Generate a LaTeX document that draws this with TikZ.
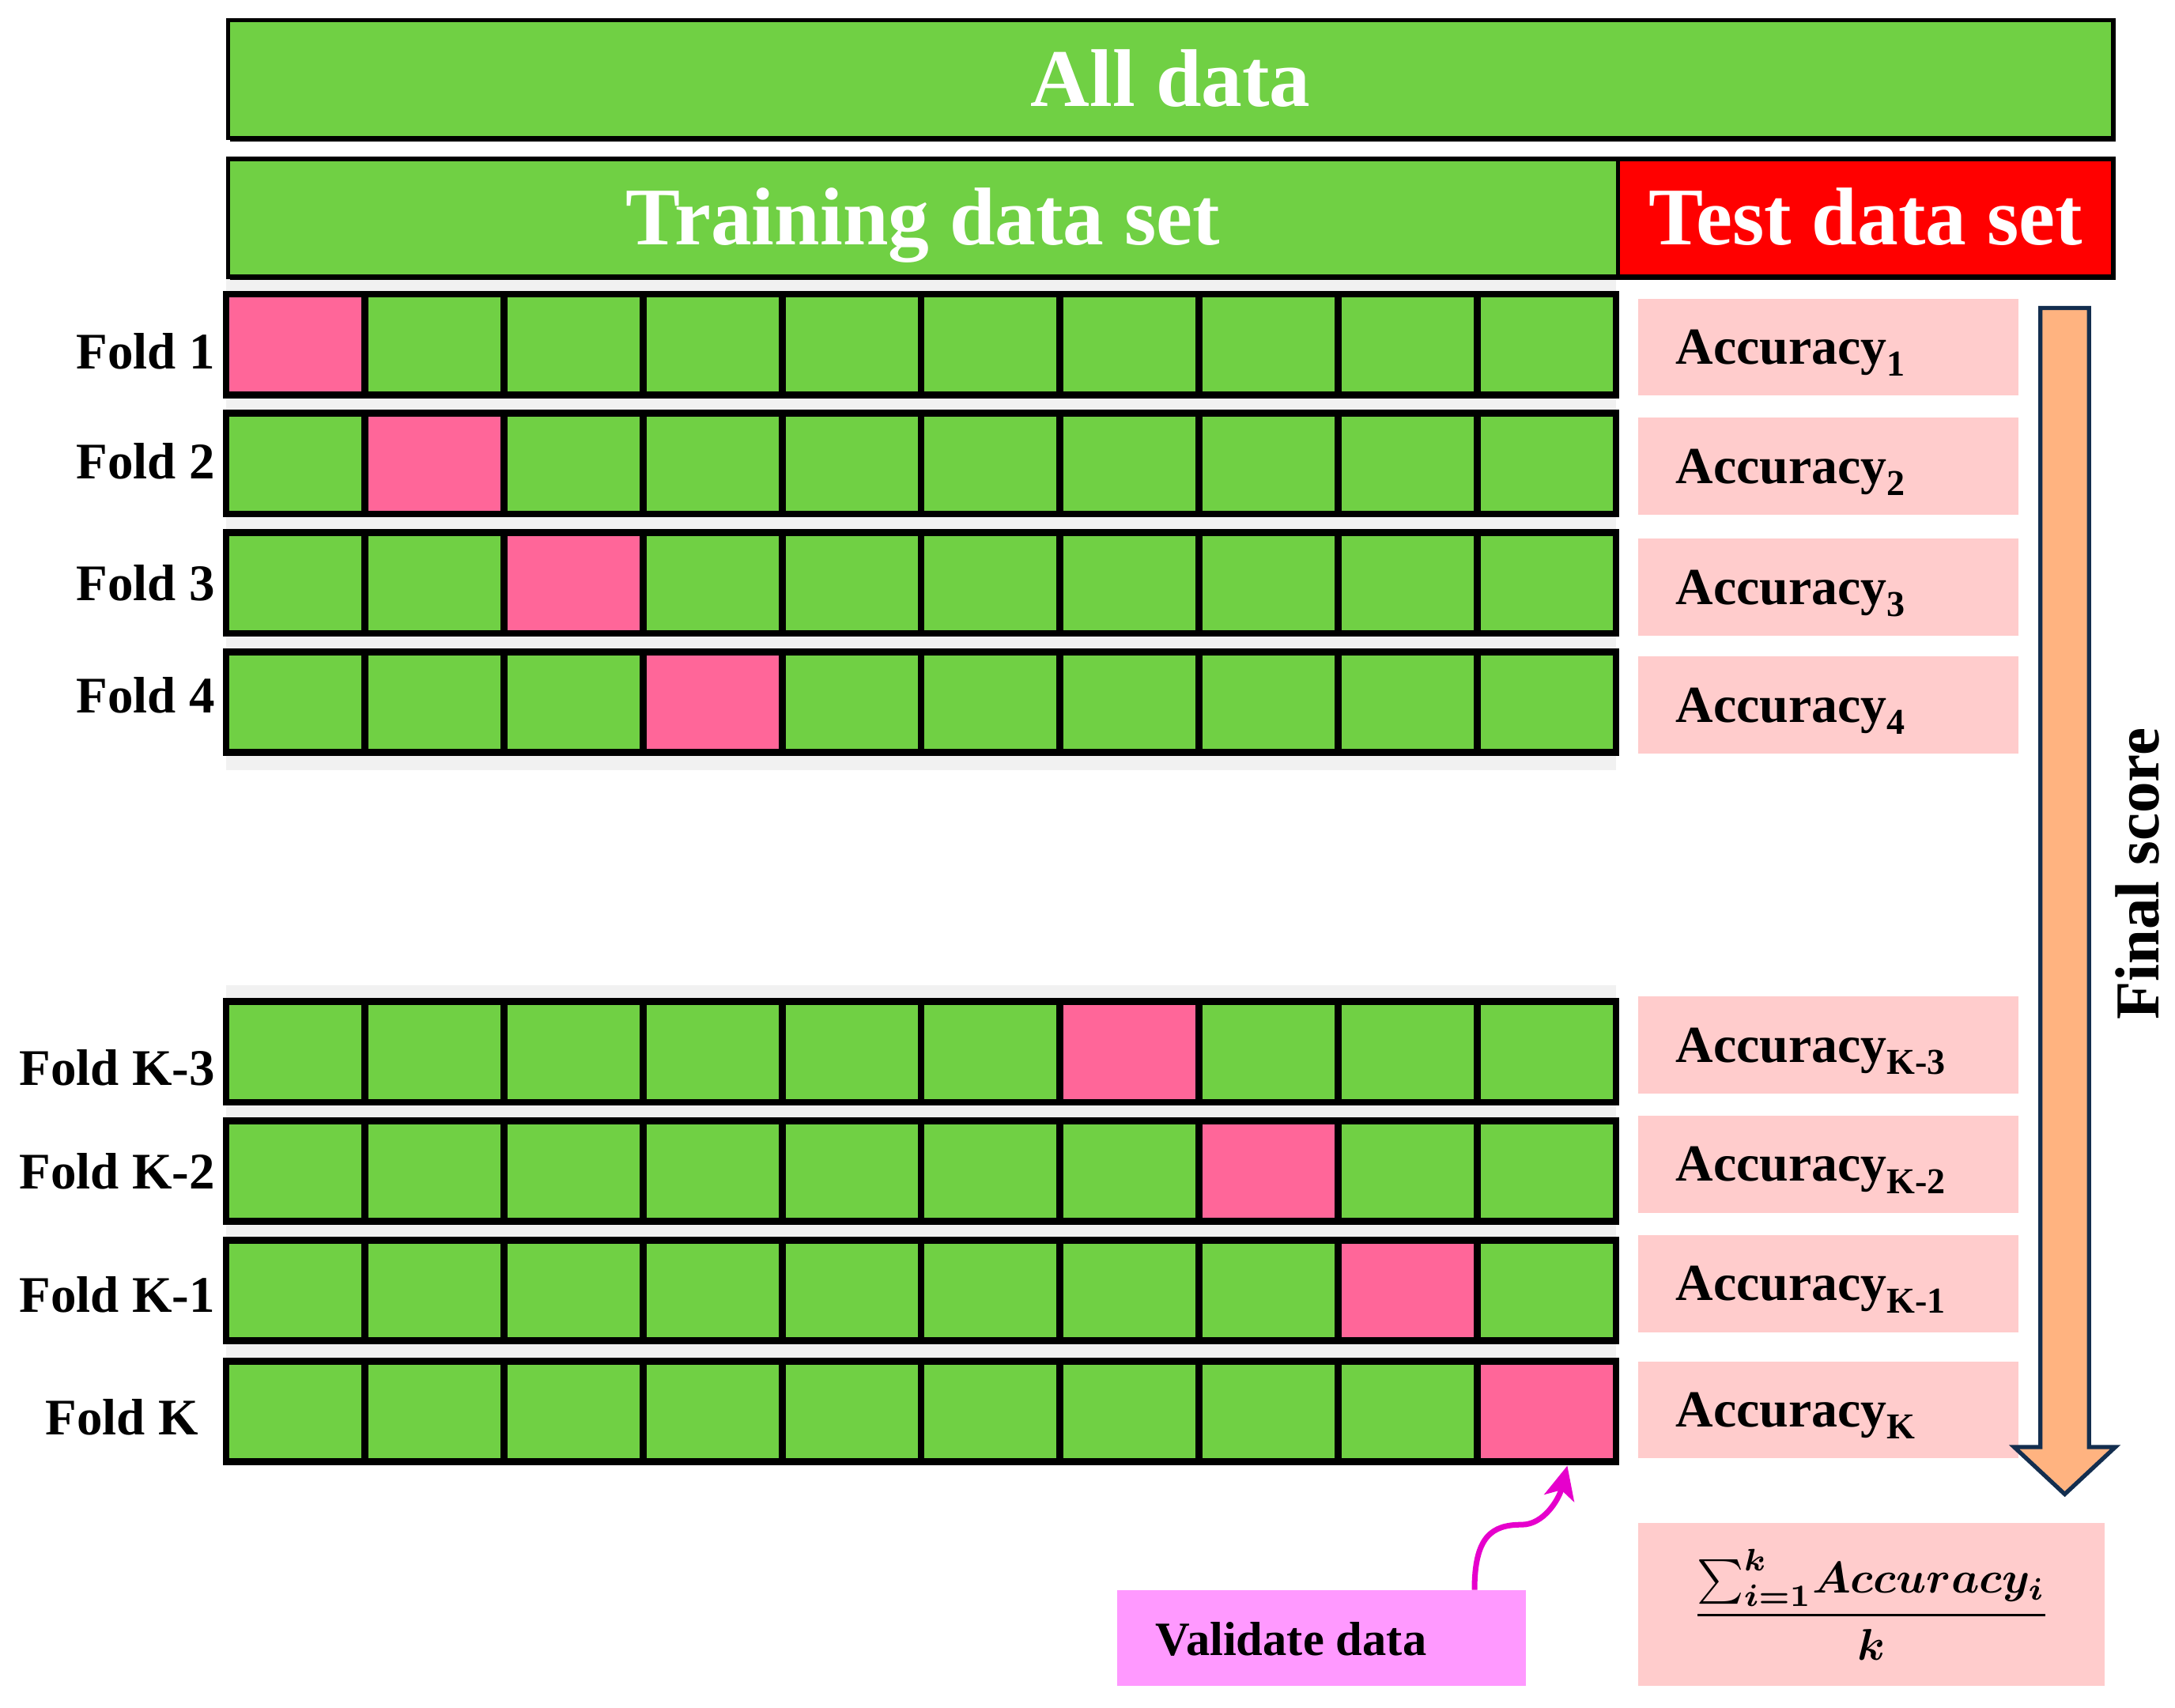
\documentclass[tikz,border=0pt]{standalone}
\usepackage{fontspec}
\setmainfont{Liberation Serif}
\usetikzlibrary{arrows.meta,shadows}
\definecolor{grn}{HTML}{70D044}
\definecolor{pnk}{HTML}{FF6699}
\definecolor{tred}{HTML}{FF0000}
\definecolor{accpink}{HTML}{FFCCCC}
\definecolor{valpink}{HTML}{FF99FF}
\definecolor{orng}{HTML}{FFB380}
\definecolor{navy}{HTML}{132E4F}
\definecolor{magn}{HTML}{E600CC}
\definecolor{band}{HTML}{F1F1F1}
\begin{document}
\begin{tikzpicture}[x=1pt,y=-1pt,
  hdr/.style={draw=black, line width=3pt, text=white, inner sep=0pt,
    anchor=north west, text height=39pt, text depth=0pt,
    font=\fontsize{59}{62}\selectfont\bfseries,
    drop shadow={shadow xshift=1.5pt, shadow yshift=-2.5pt, fill=black, opacity=1}},
  cell/.style={draw=black, line width=5pt, minimum width=100.2pt,
    minimum height=72.5pt, anchor=north west, inner sep=0pt, outer sep=0pt},
  foldlab/.style={anchor=base east, inner sep=0pt, font=\fontsize{37}{40}\selectfont\bfseries},
  accbox/.style={fill=accpink, minimum width=274pt, minimum height=70pt,
    anchor=north west, inner sep=0pt},
  acctxt/.style={anchor=base west, inner sep=0pt, font=\fontsize{37.5}{40}\selectfont\bfseries},
  bigarrow/.style={draw=navy, line width=3pt, fill=orng, line join=miter},
  magarrow/.style={draw=magn, line width=4pt, -{Stealth[length=24pt,width=22pt,inset=6pt]}}
]
\useasboundingbox (0,0) rectangle (1568,1231);
\fill[white] (0,0) rectangle (1568,1231);

% light grey bands behind the fold rows
\fill[band] (163,198) rectangle (1165,555);
\fill[band] (163,710) rectangle (1165,1053);

% headers
\node[hdr, fill=grn, minimum width=1359pt, minimum height=85pt] (all) at (163,13) {All data};
\node[hdr, fill=grn, minimum width=1002pt, minimum height=85pt] (train) at (163,113) {Training data set};
\node[hdr, fill=tred, minimum width=357pt, minimum height=85pt] (test) at (1165,113) {Test data set};

% fold rows
\foreach \i/\t/\p/\lab/\lx/\lb/\sub/\at in {
  1/212/1/Fold 1/155/266/1/215,
  2/298/2/Fold 2/155/345/2/301,
  3/384/3/Fold 3/155/433/3/388,
  4/470/4/Fold 4/155/514/4/473,
  5/722/7/Fold K-3/155/782/K-3/718,
  6/808/8/Fold K-2/155/857/K-2/804,
  7/894/9/Fold K-1/155/946/K-1/890,
  8/981/10/Fold K/143/1034/K/981}{
  \foreach \c in {1,...,10}{
    \ifnum\c=\p\relax\def\cc{pnk}\else\def\cc{grn}\fi
    \node[cell, fill=\cc] (r\i c\c) at ({163+100.2*(\c-1)},\t) {};
  }
  \node[foldlab] (lab\i) at (\lx,\lb) {\lab};
  \node[accbox] (acc\i) at (1181,\at) {};
  \node[acctxt] (acct\i) at (1208,\at+47.5) {Accuracy\textsubscript{\sub}};
}

% final score arrow
\draw[bigarrow] (1471,222) -- (1506,222) -- (1506,1043) -- (1525,1043)
  -- (1488.5,1077) -- (1452,1043) -- (1471,1043) -- cycle;
\node[rotate=90, inner sep=0pt, font=\fontsize{45}{48}\selectfont\bfseries] (fs) at (1541,630) {Final score};

% formula box
\node[fill=accpink, minimum width=336pt, minimum height=117pt, inner sep=0pt] (final) at (1349,1156.5)
  {\scalebox{3.2}{\boldmath$\displaystyle\frac{\textstyle\sum_{i=1}^{k}\!Accuracy_{i}}{k}$}};

% validate data
\node[fill=valpink, minimum width=295pt, minimum height=69pt, anchor=north west, inner sep=0pt] (val) at (805,1146) {};
\node[anchor=base west, inner sep=0pt, font=\fontsize{34.5}{37}\selectfont\bfseries] (valt) at (833,1193) {Validate data};

\coordinate (vs) at ([xshift=258pt]val.north west);
\coordinate (vm) at (1097,1099);
\coordinate (ve) at ([xshift=15pt,yshift=-3pt]r8c10.south);
\draw[magarrow] (vs) .. controls +(0,-38) and +(-22,0) .. (vm)
  .. controls +(16,0) and +(-6,24) .. (ve);
\end{tikzpicture}
\end{document}
